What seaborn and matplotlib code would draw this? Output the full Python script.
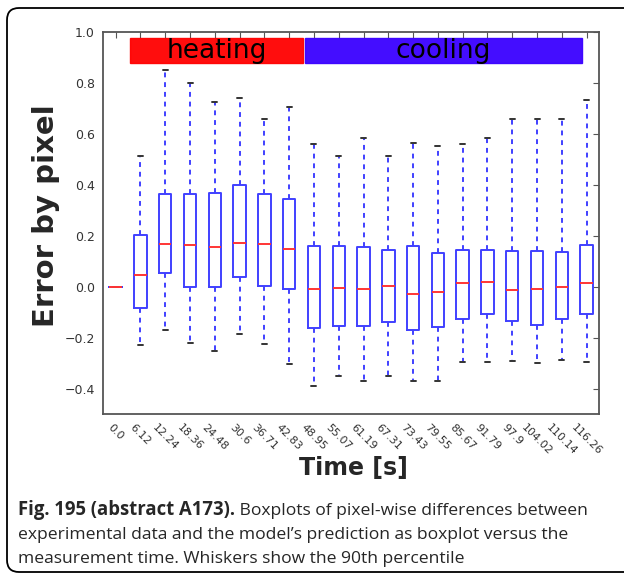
import numpy as np
import pandas as pd
import matplotlib
matplotlib.use("Agg")
import matplotlib.pyplot as plt
from matplotlib.patches import Rectangle, PathPatch
from matplotlib.path import Path
import seaborn as sns

# measurement times (tick labels)
times = ["0.0", "6.12", "12.24", "18.36", "24.48", "30.6", "36.71", "42.83", "48.95", "55.07",
         "61.19", "67.31", "73.43", "79.55", "85.67", "91.79", "97.9", "104.02", "110.14", "116.26"]

# five-number summaries
whisker_low = [0.0, -0.230, -0.171, -0.222, -0.251, -0.184, -0.224, -0.302, -0.388, -0.350,
               -0.370, -0.350, -0.370, -0.370, -0.294, -0.294, -0.291, -0.298, -0.286, -0.294]
q1 = [0.0, -0.085, 0.055, 0.0, 0.0, 0.039, 0.004, -0.010, -0.163, -0.152,
      -0.153, -0.137, -0.169, -0.157, -0.125, -0.108, -0.133, -0.149, -0.128, -0.106]
median = [0.0, 0.048, 0.168, 0.165, 0.154, 0.172, 0.168, 0.147, -0.008, -0.005,
          -0.008, 0.004, -0.030, -0.021, 0.013, 0.017, -0.012, -0.008, -0.002, 0.013]
q3 = [0.0, 0.204, 0.363, 0.363, 0.366, 0.398, 0.365, 0.343, 0.160, 0.160,
      0.156, 0.144, 0.158, 0.131, 0.143, 0.143, 0.139, 0.139, 0.136, 0.165]
whisker_high = [0.0, 0.513, 0.848, 0.799, 0.724, 0.740, 0.657, 0.706, 0.560, 0.512,
                0.584, 0.512, 0.562, 0.553, 0.560, 0.584, 0.656, 0.656, 0.656, 0.733]

# phase bars on top
phase_names = ["heating", "cooling"]
phase_start = [0.58, 7.65]
phase_end = [7.57, 18.8]
phase_colors = ["#ff0000", "#3a00ff"]

caption_bold = "Fig. 195 (abstract A173)."
caption_lines = [
    " Boxplots of pixel-wise differences between",
    "experimental data and the model\u2019s prediction as boxplot versus the",
    "measurement time. Whiskers show the 90th percentile",
]

rows = []
for i, t in enumerate(times):
    for v in (whisker_low[i], q1[i], median[i], q3[i], whisker_high[i]):
        rows.append({"time": t, "error": v})
df = pd.DataFrame(rows)

sns.set_style("white")
plt.rcParams["font.family"] = ["DejaVu Sans"]

W, H = 624, 576
fig = plt.figure(figsize=(W / 100, H / 100), dpi=100)
ax = fig.add_axes([103.3 / W, 1 - 414.3 / H, 495.7 / W, 382.6 / H])

sns.boxplot(data=df, x="time", y="error", order=times, ax=ax,
            whis=(0, 100), width=0.5, fill=False, color="#4040ff", linewidth=1.4,
            showfliers=False, capwidths=0.2,
            medianprops={"color": "#ff3535", "linewidth": 1.4},
            whiskerprops={"linestyle": (0, (2.5, 2.5)), "linewidth": 1.4},
            capprops={"color": "#333333", "linewidth": 1.4})

ax.set_xlim(-0.5, 19.5)
ax.set_ylim(-0.5, 1.0)
ax.set_yticks(np.arange(-0.4, 1.01, 0.2))
ax.set_yticklabels([f"{v:.1f}".replace("-", "\u2212") for v in np.arange(-0.4, 1.01, 0.2)])

for name, x0, x1, c in zip(phase_names, phase_start, phase_end, phase_colors):
    ax.add_patch(Rectangle((x0, 0.876), x1 - x0, 0.098, facecolor=c, edgecolor=c,
                           alpha=0.95, zorder=3))
    ax.text((x0 + x1) / 2, 0.896, name, ha="center", va="baseline", fontsize=19,
            color="black", zorder=4)

for s in ax.spines.values():
    s.set_color("#555555")
    s.set_linewidth(1.3)
ax.tick_params(direction="in", top=True, right=True, length=4, width=0.8,
               color="#555555", labelcolor="#333333", labelsize=9, pad=6)
ax.tick_params(axis="x", labelrotation=-45, labelsize=8, pad=6)

ax.set_xlabel("Time [s]", fontsize=17, fontweight="bold")
ax.set_ylabel("Error by pixel", fontsize=21, fontweight="bold")
ax.xaxis.set_label_coords(0.505, -0.11)
ax.yaxis.set_label_coords(-0.088, 0.52)

# caption: bold lead-in and body fitted to the widths seen in the original
cap_font = "Open Sans"
y1 = 1 - 515 / H
tb = fig.text(18 / W, y1, caption_bold, fontsize=12, fontweight="bold",
              family=cap_font, ha="left", va="baseline")
body = [fig.text(18 / W, 1 - (539 + 24 * k) / H, line, fontsize=12, family=cap_font,
                 ha="left", va="baseline") for k, line in enumerate(caption_lines[1:])]
fig.canvas.draw()
r = fig.canvas.get_renderer()
tb.set_fontsize(12 * 217 / tb.get_window_extent(r).width)
fs = 12 * (545 + 445) / sum(t.get_window_extent(r).width for t in body)
for t in body:
    t.set_fontsize(fs)
ax.annotate(caption_lines[0], xy=(1, y1), xycoords=(tb, "figure fraction"),
            fontsize=fs, family=cap_font, ha="left", va="baseline")

# page frame: open on the right, rounded on the left corners (pixel units)
x0, top, bot, rad = 7, H - 8, 4, 12
verts = [(W + 10, top), (x0 + rad, top), (x0, top), (x0, top - rad),
         (x0, bot + rad), (x0, bot), (x0 + rad, bot), (W + 10, bot)]
codes = [Path.MOVETO, Path.LINETO, Path.CURVE3, Path.CURVE3,
         Path.LINETO, Path.CURVE3, Path.CURVE3, Path.LINETO]
frame = PathPatch(Path(verts, codes), transform=None, fill=False,
                  edgecolor="black", linewidth=1.3, clip_on=False)
fig.add_artist(frame)
frame.set_transform(matplotlib.transforms.IdentityTransform())

fig.savefig("out.png", dpi=100)
